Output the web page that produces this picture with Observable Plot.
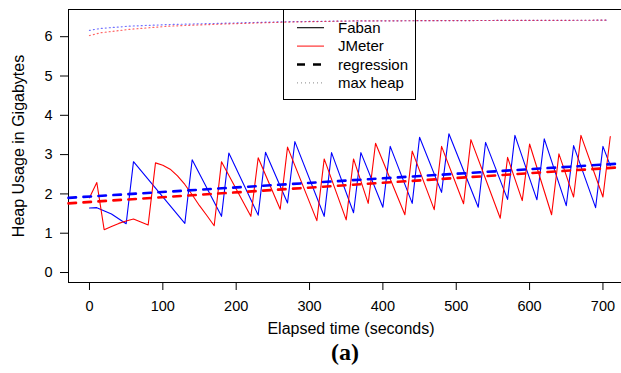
<!DOCTYPE html>
<html>
<head>
<meta charset="utf-8">
<script src="https://cdn.jsdelivr.net/npm/d3@7"></script>
<script src="https://cdn.jsdelivr.net/npm/@observablehq/plot@0.6"></script>
<style>
  html, body { margin: 0; padding: 0; background: #fff; }
  #chart { width: 621px; height: 373px; overflow: hidden; }
</style>
</head>
<body>
<div id="chart"></div>
<script>
// Heap usage over time for the two load generators (seconds, GB)
const fabanTime = [0, 10, 30, 50, 60, 130, 140, 180, 190, 230, 240, 270, 280, 320, 330, 360, 370, 400, 410, 440, 450, 480, 490, 530, 540, 570, 580, 610, 620, 650, 660, 690, 700, 710];
const fabanHeap = [1.64, 1.65, 1.49, 1.24, 2.82, 1.25, 2.87, 1.43, 3.04, 1.46, 3.06, 1.77, 3.33, 1.43, 3.05, 1.52, 3.05, 1.66, 3.21, 1.76, 3.44, 2.04, 3.53, 1.66, 3.31, 1.86, 3.49, 1.85, 3.40, 1.70, 3.23, 1.65, 3.21, 2.72];

const jmeterTime = [0, 10, 20, 30, 40, 50, 60, 80, 90, 100, 110, 120, 130, 140, 150, 160, 170, 180, 220, 230, 260, 270, 310, 320, 350, 360, 380, 390, 430, 440, 470, 480, 510, 520, 560, 570, 590, 600, 630, 640, 660, 670, 700, 710];
const jmeterHeap = [1.90, 2.29, 1.09, 1.17, 1.25, 1.31, 1.36, 1.21, 2.79, 2.73, 2.63, 2.46, 2.24, 1.98, 1.70, 1.45, 1.19, 2.82, 1.43, 2.92, 1.61, 3.19, 1.32, 2.89, 1.34, 2.89, 1.76, 3.29, 1.47, 3.09, 1.60, 3.21, 1.75, 3.38, 1.38, 2.93, 1.83, 3.27, 1.47, 3.02, 1.92, 3.49, 1.92, 3.46];

// Maximum heap size reported by each JVM
const maxHeapTime = [0, 15, 56, 110, 179, 264, 356, 492, 706];
const fabanMaxHeap = [6.16, 6.21, 6.27, 6.31, 6.34, 6.38, 6.40, 6.41, 6.42];
const jmeterMaxHeap = [6.03, 6.10, 6.19, 6.27, 6.32, 6.37, 6.40, 6.41, 6.42];

// Fitted regression lines: [Faban, JMeter]
const regIntercept = [1.933, 1.795];
const regSlope = [0.00116, 0.00122];

const xTicks = [0, 100, 200, 300, 400, 500, 600, 700];
const yTicks = [0, 1, 2, 3, 4, 5, 6];
const xDomain = [-28.6, 725.3];
const yDomain = [-0.254, 6.692];

const legendLabels = ["Faban", "JMeter", "regression", "max heap"];
const xTitle = "Elapsed time (seconds)";
const yTitle = "Heap Usage in Gigabytes";
const caption = "(a)";

const zip = (ts, vs) => ts.map((t, i) => ({t, v: vs[i]}));
const faban = zip(fabanTime, fabanHeap);
const jmeter = zip(jmeterTime, jmeterHeap);
const fabanMax = zip(maxHeapTime, fabanMaxHeap);
const jmeterMax = zip(maxHeapTime, jmeterMaxHeap);
const regLine = (k) => xDomain.map((t) => ({t, v: regIntercept[k] + regSlope[k] * t}));

const svg = Plot.plot({
  width: 621,
  height: 373,
  marginLeft: 68,
  marginRight: 0,
  marginTop: 9,
  marginBottom: 91,
  style: {fontFamily: "'Liberation Sans', Arial, sans-serif", fontSize: "14.5px", color: "black", background: "white"},
  x: {domain: xDomain},
  y: {domain: yDomain},
  marks: [
    // plot box (open on the right)
    Plot.ruleY(yDomain, {stroke: "black", strokeWidth: 1}),
    Plot.ruleX([xDomain[0]], {stroke: "black", strokeWidth: 1}),
    Plot.axisX({ticks: xTicks, tickSize: 8, tickPadding: 10, tickFormat: (d) => String(d), label: null}),
    Plot.axisY({ticks: yTicks, tickSize: 8, tickPadding: 8, tickFormat: (d) => String(d), label: null}),
    Plot.line(fabanMax, {x: "t", y: "v", stroke: "blue", strokeWidth: 1.2, strokeDasharray: "1,3", strokeOpacity: 0.55}),
    Plot.line(jmeterMax, {x: "t", y: "v", stroke: "red", strokeWidth: 1.2, strokeDasharray: "1,3", strokeOpacity: 0.6}),
    Plot.line(faban, {x: "t", y: "v", stroke: "blue", strokeWidth: 1.1}),
    Plot.line(jmeter, {x: "t", y: "v", stroke: "red", strokeWidth: 1.1}),
    Plot.line(regLine(1), {x: "t", y: "v", stroke: "red", strokeWidth: 2.6, strokeDasharray: "7.5,7.5"}),
    Plot.line(regLine(0), {x: "t", y: "v", stroke: "blue", strokeWidth: 2.6, strokeDasharray: "7.5,7.5"}),
    Plot.text([xTitle], {text: (d) => d, frameAnchor: "bottom", textAnchor: "middle", dy: 51, dx: 6, fontSize: 16}),
    Plot.text([yTitle], {text: (d) => d, frameAnchor: "left", textAnchor: "middle", dx: -50, rotate: -90, fontSize: 16}),
    Plot.text([caption], {text: (d) => d, frameAnchor: "bottom", textAnchor: "middle", dy: 77, fontSize: 24, fontWeight: "bold", fontFamily: "'Liberation Serif', 'Times New Roman', serif"})
  ]
});

// Legend box drawn inside the plot area
const legendStyles = [
  {stroke: "black", width: 1.1, dash: null},
  {stroke: "#ff2020", width: 1.1, dash: null},
  {stroke: "black", width: 2.6, dash: "8,8"},
  {stroke: "#888", width: 1, dash: "1,3"}
];
const lg = d3.select(svg).append("g")
  .attr("font-family", "'Liberation Sans', Arial, sans-serif")
  .attr("font-size", 15)
  .attr("text-anchor", "start");
lg.append("rect")
  .attr("x", 283.5).attr("y", 9.5).attr("width", 132).attr("height", 90)
  .attr("fill", "none").attr("stroke", "black").attr("stroke-width", 1);
legendLabels.forEach((label, i) => {
  const y = 27.7 + i * 18.4;
  const s = legendStyles[i];
  lg.append("line")
    .attr("x1", 297).attr("x2", 324).attr("y1", y).attr("y2", y)
    .attr("stroke", s.stroke).attr("stroke-width", s.width)
    .attr("stroke-dasharray", s.dash);
  lg.append("text")
    .attr("x", 338).attr("y", y).attr("dy", "0.35em")
    .attr("text-anchor", "start")
    .attr("fill", "black").text(label);
});

document.getElementById("chart").appendChild(svg);
</script>
</body>
</html>
